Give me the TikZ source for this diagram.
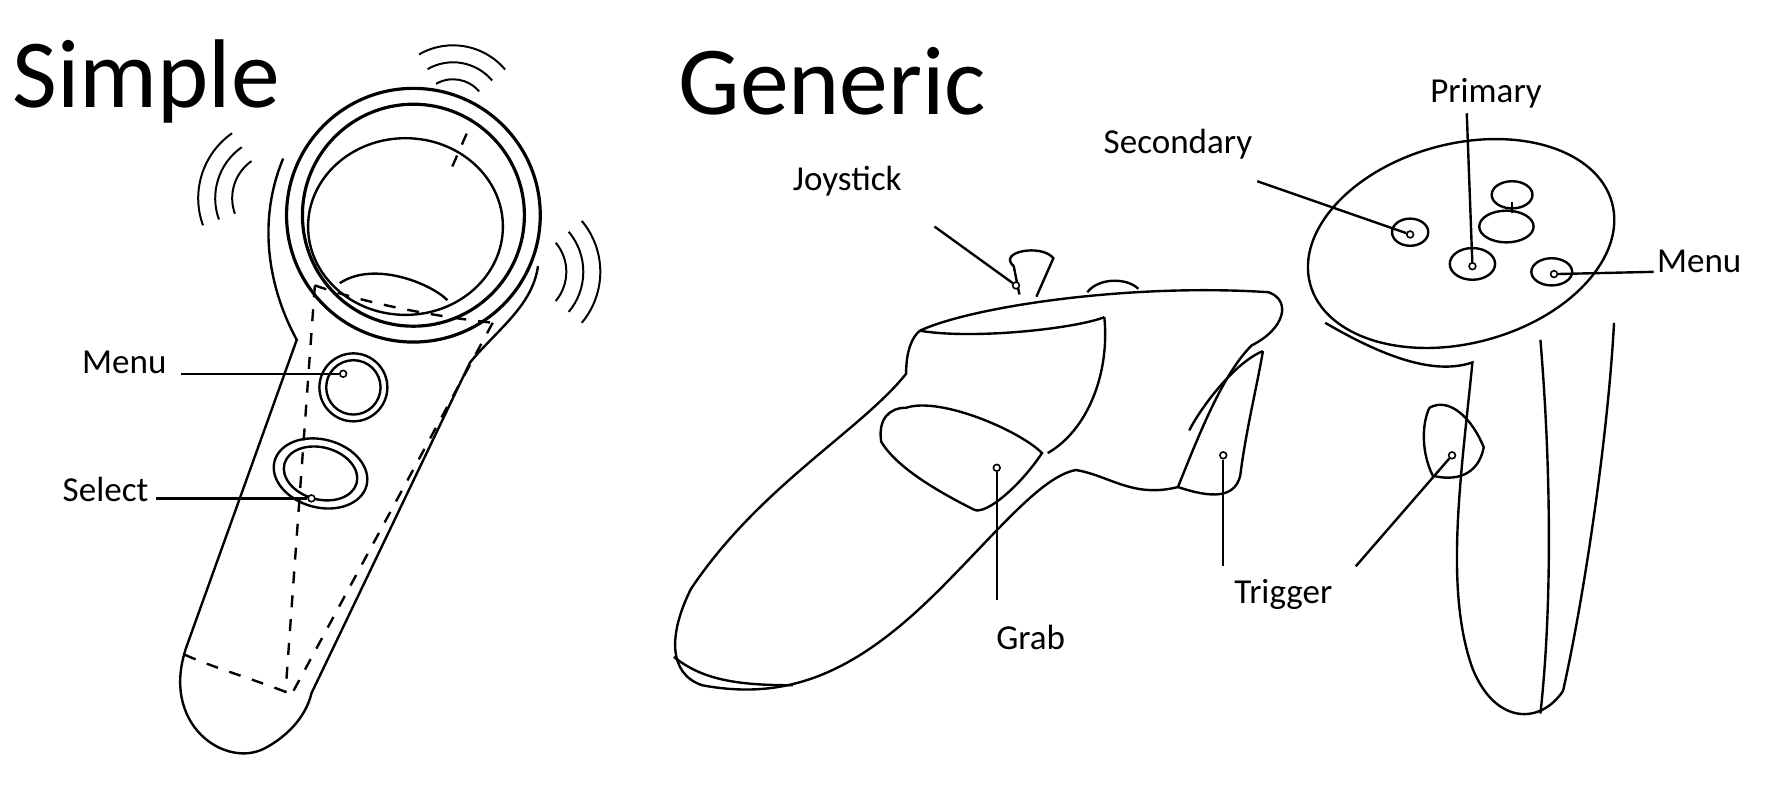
\documentclass[tikz,border=0pt]{standalone}
\usepackage{fontspec}
\setmainfont{Carlito}
\begin{document}
\begin{tikzpicture}[x=0.01cm,y=-0.01cm,line width=0.6pt,
 lbl/.style={font=\fontsize{8.8}{9}\selectfont,inner sep=0},
 big/.style={font=\fontsize{24.5}{25}\selectfont,inner sep=0},
 dotc/.style={circle,draw,fill=white,inner sep=0.6pt,line width=0.4pt},
 ld/.style={line width=0.6pt}]
\useasboundingbox[fill=white] (0,0) rectangle (1568,706);
\node[big,anchor=west] (t1) at (10,72) {Simple};
\node[big,anchor=west] (t2) at (598,72) {Generic};
% ---- simple controller
\draw (250,140) .. controls (225,200) and (240,260) .. (262,300) -- (165,570)
  .. controls (140,640) and (200,680) .. (235,660) .. controls (262,645) and (272,625) .. (275,612)
  -- (415,320) .. controls (440,290) and (470,270) .. (475,235);
\draw[line width=0.8pt] (365,190) circle (112);
\draw[line width=0.8pt] (365,190) circle (98);
\draw (358,200) ellipse (86 and 78);
\draw (300,250) .. controls (330,230) and (380,250) .. (395,265);
\draw[dashed] (278,252) -- (252,612);
\draw[dashed] (435,285) -- (258,612);
\draw[dashed] (278,252) .. controls (330,270) and (390,280) .. (435,285);
\draw[dashed] (163,578) .. controls (190,590) and (225,600) .. (255,612);
\draw[dashed] (412,118) -- (398,150);
\draw (312,342) circle (30);
\draw (312,342) circle (24);
\draw[rotate around={-15:(283,418)}] (283,418) ellipse (42 and 30);
\draw[rotate around={-15:(283,418)}] (283,418) ellipse (33 and 23);
\foreach \r in {40,55,70} \draw[line width=0.5pt] (245,175) ++(160:\r) arc (160:235:\r);
\foreach \r in {40,55,70} \draw[line width=0.5pt] (460,240) ++(-40:\r) arc (-40:40:\r);
\foreach \r in {30,45,60} \draw[line width=0.5pt] (400,100) ++(-120:\r) arc (-120:-40:\r);
\node[dotc] (sm) at (303,330) {};
\node[dotc] (ss) at (275,440) {};
\node[lbl,anchor=east] (lm) at (148,320) {Menu};
\node[lbl,anchor=east] (ls) at (132,432) {Select};
\draw[ld] (160,330) -- (sm);
\draw[ld] (138,440) -- (ss);
% ---- generic left controller
\draw (812,292) .. controls (860,270) and (1000,250) .. (1120,258)
  .. controls (1140,265) and (1135,290) .. (1105,305)
  .. controls (1080,330) and (1060,380) .. (1040,430)
  .. controls (1070,440) and (1090,440) .. (1095,420)
  .. controls (1100,380) and (1110,340) .. (1115,310);
\draw (1040,430) .. controls (1000,440) and (980,420) .. (950,415)
  .. controls (920,420) and (880,470) .. (830,520)
  .. controls (760,590) and (700,620) .. (620,605)
  .. controls (590,595) and (590,560) .. (610,520)
  .. controls (670,430) and (760,380) .. (800,330)
  .. controls (800,310) and (805,298) .. (812,292);
\draw (812,292) .. controls (860,300) and (950,290) .. (975,280);
\draw (975,280) .. controls (980,330) and (960,380) .. (925,400);
\draw (800,360) .. controls (830,350) and (900,380) .. (920,400)
  .. controls (900,430) and (870,455) .. (860,450)
  .. controls (820,430) and (790,410) .. (778,390) .. controls (775,370) and (785,360) .. (800,360);
\draw (1115,310) .. controls (1090,320) and (1060,360) .. (1050,380);
\draw (900,260) -- (895,235) .. controls (880,222) and (920,215) .. (930,228) -- (915,262);
\draw (960,258) .. controls (970,245) and (995,245) .. (1005,255);
\draw (595,580) .. controls (620,600) and (650,605) .. (700,605);
% ---- generic right controller
\draw[rotate around={15:(1290,215)}] (1290,215) ellipse (138 and 88);
\draw (1170,285) .. controls (1230,320) and (1270,330) .. (1300,320)
  .. controls (1290,420) and (1275,520) .. (1300,590)
  .. controls (1320,640) and (1360,640) .. (1380,610)
  .. controls (1400,520) and (1420,380) .. (1425,285);
\draw (1360,300) .. controls (1370,420) and (1370,540) .. (1360,630);
\draw (1262,360) .. controls (1280,350) and (1300,370) .. (1310,395)
  .. controls (1305,420) and (1285,425) .. (1265,420)
  .. controls (1255,400) and (1255,375) .. (1262,360);
\draw (1245,205) ellipse (16 and 12);
\draw (1300,233) ellipse (20 and 14);
\draw (1370,240) ellipse (18 and 12);
\draw (1330,200) ellipse (24 and 14);
\draw (1335,188) -- (1335,178);
\draw (1335,172) ellipse (18 and 12);
\node[dotc] (dj) at (897,252) {};
\node[dotc] (dg) at (880,413) {};
\node[dotc] (dt) at (1080,402) {};
\node[dotc] (ds) at (1245,207) {};
\node[dotc] (dp) at (1300,235) {};
\node[dotc] (dm) at (1372,242) {};
\node[dotc] (dt2) at (1282,402) {};
\node[lbl] (lj) at (748,160) {Joystick};
\node[lbl] (lg) at (910,563) {Grab};
\node[lbl] (lt) at (1133,525) {Trigger};
\node[lbl] (lsec) at (1040,127) {Secondary};
\node[lbl] (lp) at (1312,82) {Primary};
\node[lbl,anchor=west] (lmm) at (1462,231) {Menu};
\draw[ld] (825,200) -- (dj);
\draw[ld] (880,530) -- (dg);
\draw[ld] (1080,500) -- (dt);
\draw[ld] (1110,160) -- (ds);
\draw[ld] (1295,100) -- (dp);
\draw[ld] (1460,240) -- (dm);
\draw[ld] (1197,500) -- (dt2);
\end{tikzpicture}
\end{document}
